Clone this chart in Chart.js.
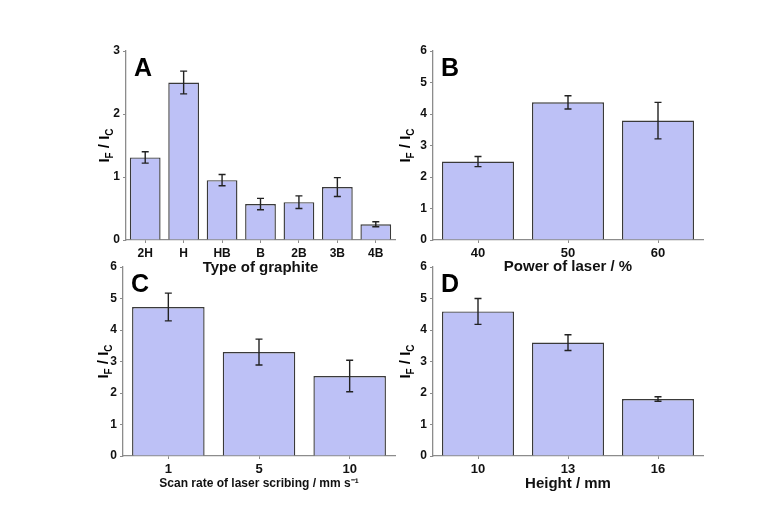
<!DOCTYPE html>
<html>
<head>
<meta charset="utf-8">
<script src="https://cdn.jsdelivr.net/npm/chart.js@4.4.1/dist/chart.umd.min.js"></script>
<style>
  body { margin: 0; background: #fff; }
  #wrap { position: relative; width: 770px; height: 531px; }
  canvas { position: absolute; left: 0; top: 0; }
</style>
</head>
<body>
<div id="wrap">
  <canvas id="cA" width="770" height="531"></canvas>
  <canvas id="cB" width="770" height="531"></canvas>
  <canvas id="cC" width="770" height="531"></canvas>
  <canvas id="cD" width="770" height="531"></canvas>
</div>
<script>
// panel A - graphite type
let catA = ["2H", "H", "HB", "B", "2B", "3B", "4B"];
let valA = [1.31, 2.50, 0.95, 0.57, 0.60, 0.84, 0.25];
let errA = [0.09, 0.18, 0.09, 0.09, 0.10, 0.15, 0.04];
// panel B - laser power
let catB = ["40", "50", "60"];
let valB = [2.49, 4.37, 3.79];
let errB = [0.16, 0.21, 0.58];
// panel C - scan rate
let catC = ["1", "5", "10"];
let valC = [4.73, 3.30, 2.54];
let errC = [0.44, 0.41, 0.50];
// panel D - height
let catD = ["10", "13", "16"];
let valD = [4.59, 3.60, 1.81];
let errD = [0.41, 0.25, 0.07];

let barFill = "#bdc1f6";
let barLine = "#3a3a3a";
let axisGray = "#8c8c8c";
let font = "'Liberation Sans', Arial, sans-serif";

// error bars from the data arrays, through the y scale
let errorBars = {
    id: "errorBars",
    afterDatasetsDraw(chart, args, opts) {
        let c = chart.ctx;
        let y = chart.scales.y;
        let bars = chart.getDatasetMeta(0).data;
        let vals = chart.data.datasets[0].data;
        c.save();
        c.strokeStyle = "#222";
        c.lineWidth = 1.4;
        bars.forEach((b, i) => {
            let top = y.getPixelForValue(vals[i] + opts.err[i]);
            let bot = y.getPixelForValue(vals[i] - opts.err[i]);
            c.beginPath();
            c.moveTo(b.x, top); c.lineTo(b.x, bot);
            c.moveTo(b.x - 3.5, top); c.lineTo(b.x + 3.5, top);
            c.moveTo(b.x - 3.5, bot); c.lineTo(b.x + 3.5, bot);
            c.stroke();
        });
        c.restore();
    }
};

// panel letter and the I_F / I_C axis label
let decor = {
    id: "decor",
    afterDraw(chart, args, opts) {
        let c = chart.ctx;
        let a = chart.chartArea;
        c.save();
        c.fillStyle = "#000";
        c.font = "bold 25px " + font;
        c.textBaseline = "alphabetic";
        c.fillText(opts.letter, a.left + 8, a.top + 25);

        // rotated y title with subscripts
        let big = "bold 15px " + font, small = "bold 10px " + font;
        let parts = [["I", big, 0], ["F", small, 4], [" / I", big, 0], ["C", small, 4]];
        let w = 0;
        parts.forEach(p => { c.font = p[1]; w += c.measureText(p[0]).width; });
        c.translate(opts.ylabX, (a.top + a.bottom) / 2);
        c.rotate(-Math.PI / 2);
        let x = -w / 2;
        parts.forEach(p => {
            c.font = p[1];
            c.fillText(p[0], x, 5 + p[2]);
            x += c.measureText(p[0]).width;
        });
        c.restore();
    }
};

function makePanel(id, cats, vals, errs, box, o) {
    let ctx = document.getElementById(id).getContext("2d");
    let yW = 30;
    return new Chart(ctx, {
        type: "bar",
        data: {
            labels: cats,
            datasets: [{
                data: vals,
                backgroundColor: barFill,
                borderColor: barLine,
                borderWidth: 1.4,
                categoryPercentage: 0.8,
                barPercentage: 1
            }]
        },
        options: {
            responsive: false,
            animation: false,
            events: [],
            layout: {
                padding: {
                    left: box.L - yW,
                    right: 770 - box.R,
                    top: box.T,
                    bottom: 531 - box.B - o.xH
                }
            },
            plugins: {
                legend: { display: false },
                tooltip: { enabled: false },
                errorBars: { err: errs },
                decor: { letter: o.letter, ylabX: o.ylabX }
            },
            scales: {
                x: {
                    afterFit: s => { s.height = o.xH; },
                    grid: { display: true, drawOnChartArea: false, offset: false, tickLength: 3, color: axisGray, lineWidth: 1 },
                    border: { display: true, color: axisGray, width: 1.3 },
                    ticks: { color: "#111", padding: 3, font: { family: font, size: o.xTick, weight: "bold" } },
                    title: { display: true, text: o.xTitle, color: "#111", padding: 0, font: { family: font, size: o.xTitleSize, weight: "bold" } }
                },
                y: {
                    min: 0,
                    max: o.yMax,
                    afterFit: s => { s.width = yW; },
                    grid: { display: true, drawOnChartArea: false, tickLength: 3, color: axisGray, lineWidth: 1 },
                    border: { display: true, color: axisGray, width: 1.3 },
                    ticks: { stepSize: 1, color: "#111", padding: 3, font: { family: font, size: 12, weight: "bold" } }
                }
            }
        },
        plugins: [errorBars, decor]
    });
}

makePanel("cA", catA, valA, errA, { L: 126, R: 395, T: 51, B: 240 },
    { letter: "A", yMax: 3, xH: 37, xTick: 12, xTitle: "Type of graphite", xTitleSize: 15, ylabX: 104 });
makePanel("cB", catB, valB, errB, { L: 433, R: 703, T: 51, B: 240 },
    { letter: "B", yMax: 6, xH: 36, xTick: 13, xTitle: "Power of laser / %", xTitleSize: 15, ylabX: 405 });
makePanel("cC", catC, valC, errC, { L: 123, R: 395, T: 267, B: 456 },
    { letter: "C", yMax: 6, xH: 35, xTick: 13, xTitle: "Scan rate of laser scribing / mm s\u207B\u00B9", xTitleSize: 12, ylabX: 103 });
makePanel("cD", catD, valD, errD, { L: 433, R: 703, T: 267, B: 456 },
    { letter: "D", yMax: 6, xH: 37, xTick: 13, xTitle: "Height / mm", xTitleSize: 15, ylabX: 405 });
</script>
</body>
</html>
